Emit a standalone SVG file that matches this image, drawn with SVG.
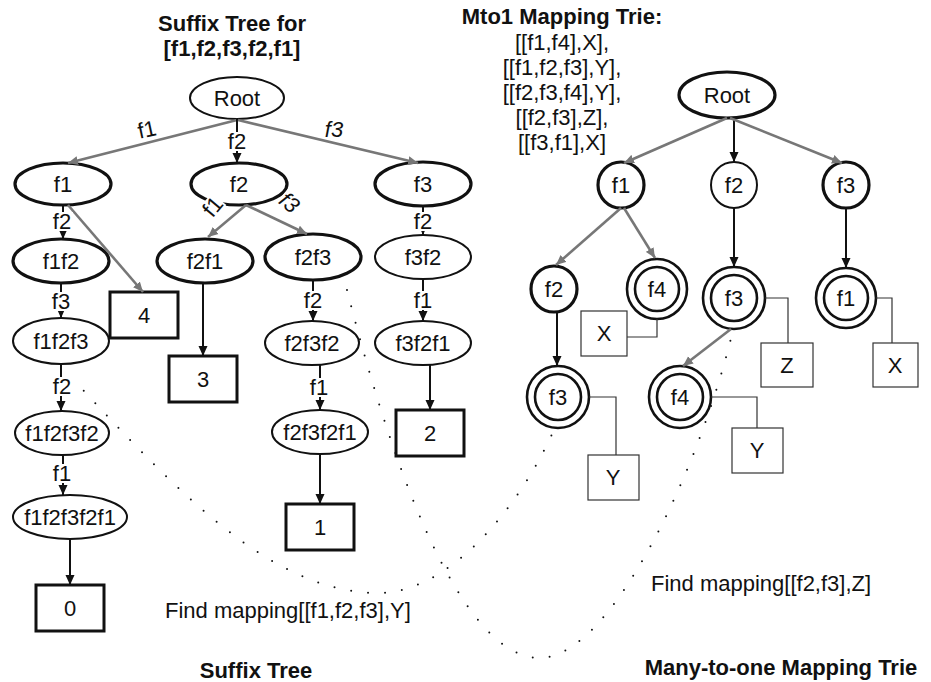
<svg xmlns="http://www.w3.org/2000/svg" width="931" height="682" viewBox="0 0 931 682">
<defs>
<marker id="ab" markerUnits="userSpaceOnUse" markerWidth="11" markerHeight="10" refX="10" refY="5" orient="auto"><path d="M0,0.5 L10,5 L0,9.5 z" fill="#111"/></marker>
<marker id="ag" markerUnits="userSpaceOnUse" markerWidth="11" markerHeight="10" refX="10" refY="5" orient="auto"><path d="M0,0.5 L10,5 L0,9.5 z" fill="#777"/></marker>
<style>
.t{font-family:"Liberation Sans",Arial,sans-serif;font-size:22px;text-anchor:middle;fill:#111}
.h{font-weight:bold}
.n{fill:#fff;stroke:#111;stroke-width:2}
.nb{fill:#fff;stroke:#111;stroke-width:3.2}
.dc{fill:#fff;stroke:#111;stroke-width:2.6}
.box{fill:#fff;stroke:#111;stroke-width:3}
.tbox{fill:#fff;stroke:#333;stroke-width:1.2}
.eb{fill:none;stroke:#111;stroke-width:2;marker-end:url(#ab)}
.eg{fill:none;stroke:#777;stroke-width:2.6;marker-end:url(#ag)}
.lk{fill:none;stroke:#333;stroke-width:1.2}
.dot{fill:none;stroke:#111;stroke-width:2;stroke-dasharray:0 17;stroke-linecap:round}
.bg{fill:#fff}
</style>
</defs>

<g id="titles">
<text class="t h" x="232" y="31">Suffix Tree for</text>
<text class="t h" x="232" y="56">[f1,f2,f3,f2,f1]</text>
<text class="t h" x="562" y="24">Mto1 Mapping Trie:</text>
<text class="t" x="562" y="50">[[f1,f4],X],</text>
<text class="t" x="562" y="75">[[f1,f2,f3],Y],</text>
<text class="t" x="562" y="100">[[f2,f3,f4],Y],</text>
<text class="t" x="562" y="125">[[f2,f3],Z],</text>
<text class="t" x="562" y="150">[[f3,f1],X]</text>
<text class="t h" x="256" y="678">Suffix Tree</text>
<text class="t h" x="781" y="675">Many-to-one Mapping Trie</text>
</g>

<g id="mappings">
<path class="dot" d="M72,378 C180,495 270,590 375,593 C450,595 520,505 553,432"/>
<path class="dot" d="M347,290 C385,440 455,658 540,658 C610,658 700,470 733,330"/>
<text class="t" x="165" y="618" style="text-anchor:start">Find mapping[[f1,f2,f3],Y]</text>
<text class="t" x="651" y="591" style="text-anchor:start">Find mapping[[f2,f3],Z]</text>
</g>

<g id="sRoot"><ellipse class="n" cx="237" cy="98" rx="47" ry="21"/><text class="t" x="237" y="106">Root</text></g>
<g id="sF1"><ellipse class="nb" cx="63" cy="184" rx="48" ry="21"/><text class="t" x="63" y="192">f1</text></g>
<g id="sF2"><ellipse class="nb" cx="239" cy="184" rx="48" ry="21"/><text class="t" x="239" y="192">f2</text></g>
<g id="sF3"><ellipse class="nb" cx="423" cy="184" rx="48" ry="22"/><text class="t" x="423" y="192">f3</text></g>
<g id="sF1F2"><ellipse class="nb" cx="61" cy="261" rx="48" ry="22"/><text class="t" x="61" y="269">f1f2</text></g>
<g id="sBox4"><rect class="box" x="110" y="292" width="68" height="46"/><text class="t" x="144" y="323">4</text></g>
<g id="sF1F2F3"><ellipse class="n" cx="61" cy="341" rx="48" ry="23"/><text class="t" x="61" y="349">f1f2f3</text></g>
<g id="sF1F2F3F2"><ellipse class="n" cx="62" cy="433" rx="47" ry="22"/><text class="t" x="62" y="441">f1f2f3f2</text></g>
<g id="sF1F2F3F2F1"><ellipse class="n" cx="70" cy="517" rx="57" ry="22"/><text class="t" x="70" y="525">f1f2f3f2f1</text></g>
<g id="sBox0"><rect class="box" x="36" y="585" width="68" height="46"/><text class="t" x="70" y="616">0</text></g>
<g id="sF2F1"><ellipse class="nb" cx="205" cy="261" rx="48" ry="22"/><text class="t" x="205" y="269">f2f1</text></g>
<g id="sBox3"><rect class="box" x="169" y="356" width="68" height="46"/><text class="t" x="203" y="387">3</text></g>
<g id="sF2F3"><ellipse class="nb" cx="313" cy="257" rx="48" ry="23"/><text class="t" x="313" y="265">f2f3</text></g>
<g id="sF2F3F2"><ellipse class="n" cx="312" cy="343" rx="47" ry="22"/><text class="t" x="312" y="351">f2f3f2</text></g>
<g id="sF2F3F2F1"><ellipse class="n" cx="320" cy="432" rx="48" ry="22"/><text class="t" x="320" y="440">f2f3f2f1</text></g>
<g id="sBox1"><rect class="box" x="286" y="504" width="68" height="46"/><text class="t" x="320" y="535">1</text></g>
<g id="sF3F2"><ellipse class="n" cx="423" cy="257" rx="48" ry="22"/><text class="t" x="423" y="265">f3f2</text></g>
<g id="sF3F2F1"><ellipse class="n" cx="423" cy="343" rx="48" ry="22"/><text class="t" x="423" y="351">f3f2f1</text></g>
<g id="sBox2"><rect class="box" x="396" y="410" width="68" height="46"/><text class="t" x="430" y="441">2</text></g>

<g id="tRoot"><ellipse class="nb" cx="727" cy="95" rx="48" ry="23"/><text class="t" x="727" y="103">Root</text></g>
<g id="tF1"><circle class="nb" cx="621" cy="185" r="23"/><text class="t" x="621" y="193">f1</text></g>
<g id="tF2"><circle class="n" cx="734" cy="185" r="23"/><text class="t" x="734" y="193">f2</text></g>
<g id="tF3"><circle class="nb" cx="846" cy="185" r="23"/><text class="t" x="846" y="193">f3</text></g>
<g id="tF1F2"><circle class="nb" cx="554" cy="289" r="23"/><text class="t" x="554" y="297">f2</text></g>
<g id="tF1F4"><circle class="dc" cx="657" cy="289" r="30"/><circle class="dc" cx="657" cy="289" r="22"/><text class="t" x="657" y="297">f4</text></g>
<g id="tBoxX1"><rect class="tbox" x="581" y="311" width="46" height="45"/><text class="t" x="604" y="341">X</text></g>
<g id="tF2F3"><circle class="dc" cx="734" cy="298" r="31"/><circle class="dc" cx="734" cy="298" r="23"/><text class="t" x="734" y="306">f3</text></g>
<g id="tBoxZ"><rect class="tbox" x="761" y="343" width="52" height="44"/><text class="t" x="787" y="373">Z</text></g>
<g id="tF3F1"><circle class="dc" cx="846" cy="298" r="30"/><circle class="dc" cx="846" cy="298" r="22"/><text class="t" x="846" y="306">f1</text></g>
<g id="tBoxX2"><rect class="tbox" x="873" y="343" width="45" height="44"/><text class="t" x="895" y="373">X</text></g>
<g id="tF1F2F3"><circle class="dc" cx="558" cy="397" r="31"/><circle class="dc" cx="558" cy="397" r="23"/><text class="t" x="558" y="405">f3</text></g>
<g id="tBoxY1"><rect class="tbox" x="588" y="455" width="51" height="45"/><text class="t" x="613" y="485">Y</text></g>
<g id="tF2F3F4"><circle class="dc" cx="680" cy="397" r="31"/><circle class="dc" cx="680" cy="397" r="23"/><text class="t" x="680" y="405">f4</text></g>
<g id="tBoxY2"><rect class="tbox" x="732" y="428" width="51" height="45"/><text class="t" x="757" y="458">Y</text></g>

<g id="connectors">
<path class="eg" d="M237,120 L68,163"/>
<path class="eb" d="M237,119 L237,163"/>
<path class="eg" d="M238,120 L418,163"/>
<path class="eb" d="M63,205 L63,239"/>
<path class="eg" d="M68,205 L143,292"/>
<path class="eb" d="M61,283 L61,318"/>
<path class="eb" d="M61,364 L61,411"/>
<path class="eb" d="M63,455 L63,495"/>
<path class="eb" d="M70,539 L70,585"/>
<path class="eg" d="M246,205 L208,237"/>
<path class="eg" d="M246,205 L307,234"/>
<path class="eb" d="M203,283 L203,356"/>
<path class="eb" d="M313,280 L313,321"/>
<path class="eb" d="M320,365 L320,410"/>
<path class="eb" d="M320,454 L320,504"/>
<path class="eb" d="M423,206 L423,235"/>
<path class="eb" d="M423,279 L423,321"/>
<path class="eb" d="M430,365 L430,410"/>

<rect class="bg" x="137" y="120" width="20" height="19" transform="rotate(-12 147 130)"/>
<text class="t" x="147" y="137" transform="rotate(-12 147 130)">f1</text>
<rect class="bg" x="227" y="132" width="20" height="19"/>
<text class="t" x="237" y="149">f2</text>
<text class="t" x="334" y="137" font-style="italic">f3</text>
<rect class="bg" x="52" y="212" width="21" height="19"/>
<text class="t" x="62" y="229">f2</text>
<rect class="bg" x="51" y="292" width="21" height="19"/>
<text class="t" x="61" y="309">f3</text>
<rect class="bg" x="52" y="377" width="21" height="19"/>
<text class="t" x="62" y="394">f2</text>
<rect class="bg" x="52" y="464" width="21" height="19"/>
<text class="t" x="62" y="481">f1</text>
<rect class="bg" x="203" y="197" width="20" height="19" transform="rotate(-50 213 207)"/>
<text class="t" x="213" y="214" transform="rotate(-50 213 207)">f1</text>
<rect class="bg" x="279" y="193" width="20" height="19" transform="rotate(40 289 203)"/>
<text class="t" x="289" y="210" font-style="italic" transform="rotate(40 289 203)">f3</text>
<rect class="bg" x="303" y="291" width="21" height="19"/>
<text class="t" x="313" y="308">f2</text>
<rect class="bg" x="309" y="378" width="21" height="19"/>
<text class="t" x="319" y="395">f1</text>
<rect class="bg" x="413" y="212" width="21" height="19"/>
<text class="t" x="423" y="229">f2</text>
<rect class="bg" x="413" y="291" width="21" height="19"/>
<text class="t" x="423" y="308">f1</text>

<path class="eg" d="M727,118 L624,163"/>
<path class="eb" d="M734,118 L734,162"/>
<path class="eg" d="M730,118 L842,163"/>
<path class="eg" d="M621,208 L556,265"/>
<path class="eg" d="M624,208 L655,258"/>
<path class="eb" d="M734,208 L734,267"/>
<path class="eb" d="M846,208 L846,268"/>
<path class="eb" d="M557,312 L557,366"/>
<path class="eg" d="M731,329 L683,366"/>
<path class="lk" d="M657,319 L657,337 L627,337"/>
<path class="lk" d="M765,298 L788,298 L788,343"/>
<path class="lk" d="M876,298 L892,298 L892,343"/>
<path class="lk" d="M589,397 L616,397 L616,455"/>
<path class="lk" d="M711,397 L757,397 L757,428"/>
</g>
</svg>
